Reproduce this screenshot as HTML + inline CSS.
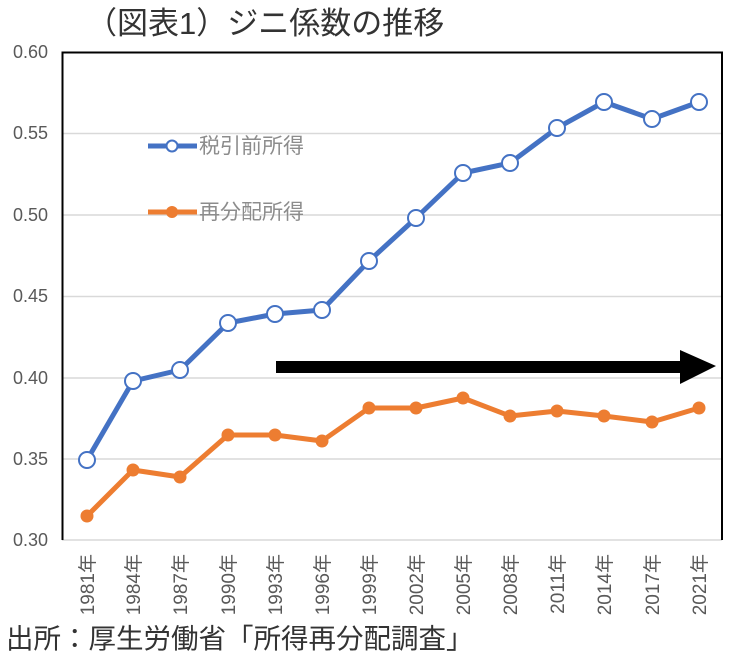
<!DOCTYPE html>
<html><head><meta charset="utf-8"><style>
body{margin:0;background:#fff;}
svg{display:block;font-family:"Liberation Sans","Noto Sans CJK JP",sans-serif;}
</style></head><body>
<svg width="729" height="657" viewBox="0 0 729 657">
<text x="86" y="34" font-size="31" fill="#333">（図表1）ジニ係数の推移</text>
<g stroke="#d9d9d9" stroke-width="1.5">
<line x1="62" x2="722" y1="133.5" y2="133.5"/>
<line x1="62" x2="722" y1="215" y2="215"/>
<line x1="62" x2="722" y1="296.5" y2="296.5"/>
<line x1="62" x2="722" y1="378" y2="378"/>
<line x1="62" x2="722" y1="459" y2="459"/>
<line x1="62" x2="722" y1="540" y2="540"/>
</g>
<path d="M62.5 540 V52.5 H722 V540" fill="none" stroke="#000" stroke-width="2"/>
<g font-size="18" fill="#595959" text-anchor="end">
<text x="48" y="58">0.60</text><text x="48" y="139">0.55</text><text x="48" y="221">0.50</text>
<text x="48" y="302">0.45</text><text x="48" y="384">0.40</text><text x="48" y="465">0.35</text><text x="48" y="546">0.30</text>
</g>
<g font-size="19" fill="#595959" text-anchor="end">
<text transform="translate(94,554) rotate(-90)">1981年</text>
<text transform="translate(140,554) rotate(-90)">1984年</text>
<text transform="translate(187,554) rotate(-90)">1987年</text>
<text transform="translate(235,554) rotate(-90)">1990年</text>
<text transform="translate(282,554) rotate(-90)">1993年</text>
<text transform="translate(329,554) rotate(-90)">1996年</text>
<text transform="translate(376,554) rotate(-90)">1999年</text>
<text transform="translate(423,554) rotate(-90)">2002年</text>
<text transform="translate(470,554) rotate(-90)">2005年</text>
<text transform="translate(517,554) rotate(-90)">2008年</text>
<text transform="translate(564,554) rotate(-90)">2011年</text>
<text transform="translate(611,554) rotate(-90)">2014年</text>
<text transform="translate(659,554) rotate(-90)">2017年</text>
<text transform="translate(706,554) rotate(-90)">2021年</text>
</g>
<path d="M680 350 L716 366 L680 384 Z" fill="#000"/>
<rect x="276" y="361" width="406" height="12" fill="#000"/>
<polyline fill="none" stroke="#4472c4" stroke-width="5" stroke-linejoin="round" points="87,460 133,381 180,370 228,323 275,314 322,310 369,261 416,218 463,173 510,163 557,128 604,102 652,119 699,102"/>
<g fill="#fff" stroke="#4472c4" stroke-width="2">
<circle cx="87" cy="460" r="8"/><circle cx="133" cy="381" r="8"/><circle cx="180" cy="370" r="8"/><circle cx="228" cy="323" r="8"/><circle cx="275" cy="314" r="8"/><circle cx="322" cy="310" r="8"/><circle cx="369" cy="261" r="8"/><circle cx="416" cy="218" r="8"/><circle cx="463" cy="173" r="8"/><circle cx="510" cy="163" r="8"/><circle cx="557" cy="128" r="8"/><circle cx="604" cy="102" r="8"/><circle cx="652" cy="119" r="8"/><circle cx="699" cy="102" r="8"/>
</g>
<polyline fill="none" stroke="#ed7d31" stroke-width="5" stroke-linejoin="round" points="87,516 133,470 180,477 228,435 275,435 322,441 369,408 416,408 463,398 510,416 557,411 604,416 652,422 699,408"/>
<g fill="#ed7d31">
<circle cx="87" cy="516" r="6.5"/><circle cx="133" cy="470" r="6.5"/><circle cx="180" cy="477" r="6.5"/><circle cx="228" cy="435" r="6.5"/><circle cx="275" cy="435" r="6.5"/><circle cx="322" cy="441" r="6.5"/><circle cx="369" cy="408" r="6.5"/><circle cx="416" cy="408" r="6.5"/><circle cx="463" cy="398" r="6.5"/><circle cx="510" cy="416" r="6.5"/><circle cx="557" cy="411" r="6.5"/><circle cx="604" cy="416" r="6.5"/><circle cx="652" cy="422" r="6.5"/><circle cx="699" cy="408" r="6.5"/>
</g>
<line x1="148" x2="197" y1="146" y2="146" stroke="#4472c4" stroke-width="5"/>
<circle cx="172" cy="146" r="5.5" fill="#fff" stroke="#4472c4" stroke-width="2"/>
<text x="199" y="153" font-size="21" fill="#8c8c8c">税引前所得</text>
<line x1="148" x2="197" y1="212" y2="212" stroke="#ed7d31" stroke-width="5"/>
<circle cx="172" cy="212" r="6" fill="#ed7d31"/>
<text x="199" y="219" font-size="21" fill="#8c8c8c">再分配所得</text>
<text x="6" y="648" font-size="27.5" fill="#333">出所：厚生労働省「所得再分配調査」</text>
</svg>
</body></html>
